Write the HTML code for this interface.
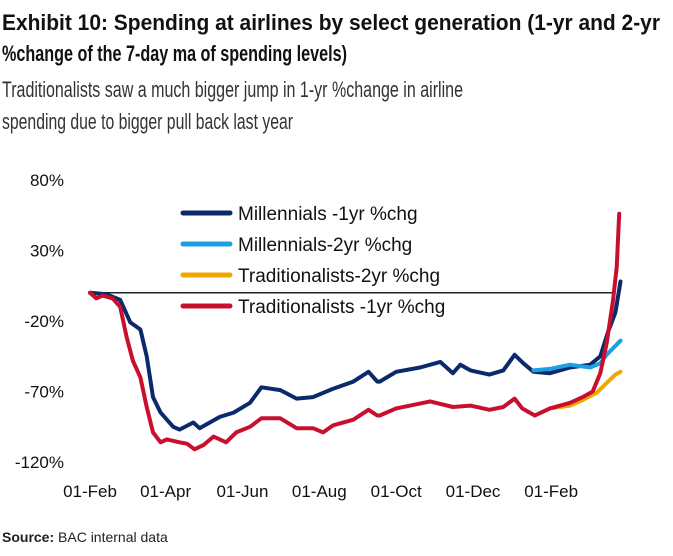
<!DOCTYPE html>
<html><head><meta charset="utf-8"><style>
html,body{margin:0;padding:0;background:#fff;}
svg{display:block;font-family:"Liberation Sans",sans-serif;}
</style></head><body>
<svg id="chart" width="673" height="556" viewBox="0 0 673 556">
<text x="2" y="30" font-size="22" font-weight="bold" textLength="658" lengthAdjust="spacingAndGlyphs" fill="#111">Exhibit 10: Spending at airlines by select generation (1-yr and 2-yr</text>
<text x="2" y="61" font-size="22" font-weight="bold" textLength="345" lengthAdjust="spacingAndGlyphs" fill="#111">%change of the 7-day ma of spending levels)</text>
<text x="2" y="97" font-size="22" textLength="461" lengthAdjust="spacingAndGlyphs" fill="#333">Traditionalists saw a much bigger jump in 1-yr %change in airline</text>
<text x="2" y="129" font-size="22" textLength="291" lengthAdjust="spacingAndGlyphs" fill="#333">spending due to bigger pull back last year</text>
<g id="yaxis"></g>
<g id="xaxis"></g>
<line id="zero" stroke="#222" stroke-width="1.5"></line>
<g id="series"></g>
<g id="legend"></g>
<text x="2" y="542" font-size="14" fill="#222"><tspan font-weight="bold">Source:</tspan> BAC internal data</text>
</svg>
<script>
const yTicks = [80, 30, -20, -70, -120];
const xTickLabels = ["01-Feb","01-Apr","01-Jun","01-Aug","01-Oct","01-Dec","01-Feb"];
const xTickDays = [0, 60, 121, 182, 243, 304, 366];
const mill1Days = [0,13,24,32,40,45,50,56,66,71,82,87,103,114,127,136,151,164,177,193,209,221,228,230,243,262,278,288,294,302,317,328,337,344,352,365,381,397,405,411,417,421];
const mill1Vals = [0,-1,-5,-21,-26,-45,-74,-85,-95,-97,-92,-96,-88,-85,-78,-67,-69,-75,-74,-68,-63,-56,-63,-63,-56,-53,-49,-57,-51,-55,-58,-55,-44,-50,-56,-57,-53,-51,-45,-28,-14,8];
const mill2Days = [352,365,381,397,405,410,421];
const mill2Vals = [-55,-54,-51,-53,-50,-44,-34];
const trad1Days = [0,5,10,18,24,29,34,40,45,50,56,61,71,77,83,90,98,108,116,127,136,151,164,177,185,193,209,221,228,230,243,270,288,302,317,328,337,343,353,365,381,391,399,405,410,415,418,420];
const trad1Vals = [0,-4,-2,-4,-10,-31,-48,-60,-81,-99,-106,-104,-106,-107,-111,-108,-102,-106,-99,-95,-89,-89,-96,-96,-99,-94,-90,-83,-87,-87,-82,-77,-81,-80,-83,-81,-75,-82,-87,-82,-78,-74,-70,-57,-36,-6,18,56];
const trad2Days = [353,365,381,391,402,410,417,421];
const trad2Vals = [-87,-82,-80,-76,-71,-64,-58,-56];
const legendLabels = ["Millennials -1yr %chg","Millennials-2yr  %chg","Traditionalists-2yr  %chg","Traditionalists -1yr %chg"];
const legendColors = ["#0b2a6b","#1ba1e2","#f0a800","#c8102e"];

const NS = "http://www.w3.org/2000/svg";
const yScale = v => 321 - (v + 20) * 1.41;
const xScale = d => 90 + d * 1.26;
function mk(tag, attrs, parent){const e=document.createElementNS(NS,tag);for(const k in attrs)e.setAttribute(k,attrs[k]);parent.appendChild(e);return e;}

const ya = document.getElementById('yaxis');
yTicks.forEach(v => {
  const t = mk('text', {x:64, y:yScale(v)+6, 'font-size':17, 'text-anchor':'end', fill:'#111'}, ya);
  
  
  t.textContent = v + '%';
});
const xa = document.getElementById('xaxis');
xTickLabels.forEach((l, i) => {
  const t = mk('text', {x:xScale(xTickDays[i]), y:497, 'font-size':17, 'text-anchor':'middle', fill:'#111'}, xa);
  
  
  t.textContent = l;
});
const z = document.getElementById('zero');
z.setAttribute('x1', xScale(0)); z.setAttribute('x2', 613);
z.setAttribute('y1', yScale(0)); z.setAttribute('y2', yScale(0));

const sg = document.getElementById('series');
function drawLine(days, vals, color, name){
  const d = days.map((dd,i)=>(i?'L':'M')+xScale(dd).toFixed(1)+','+yScale(vals[i]).toFixed(1)).join(' ');
  const p = mk('path', {d:d, fill:'none', stroke:color, 'stroke-width':4, 'stroke-linejoin':'round', 'stroke-linecap':'round'}, sg);
  
  
}
drawLine(mill1Days, mill1Vals, legendColors[0], 'millennials-1yr-line');
drawLine(trad2Days, trad2Vals, legendColors[2], 'traditionalists-2yr-line');
drawLine(mill2Days, mill2Vals, legendColors[1], 'millennials-2yr-line');
drawLine(trad1Days, trad1Vals, legendColors[3], 'traditionalists-1yr-line');

const lg = document.getElementById('legend');
legendLabels.forEach((l, i) => {
  const y = 213 + i * 31;
  const ln = mk('line', {x1:183, x2:230, y1:y, y2:y, stroke:legendColors[i], 'stroke-width':5, 'stroke-linecap':'round'}, lg);
  
  
  const t = mk('text', {x:238, y:y+7, 'font-size':19, fill:'#111'}, lg);
  
  
  t.textContent = l;
});
</script>
</body></html>
